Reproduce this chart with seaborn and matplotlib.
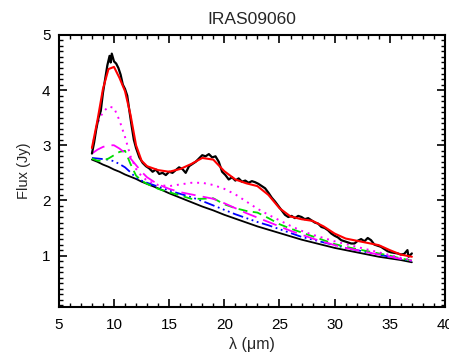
import numpy as np
import pandas as pd
import matplotlib
matplotlib.use("Agg")
import matplotlib.pyplot as plt
import seaborn as sns
from matplotlib.ticker import MultipleLocator

# ---- model grid (micron) ----
wave = [8, 8.5, 9, 9.5, 10, 10.5, 11, 11.5, 12, 12.5, 13, 14, 15, 16, 17, 18, 19,
        20, 21, 22, 23, 24, 25, 26, 27, 28, 29, 30, 31, 32, 33, 34, 35, 36, 37]

continuum = [2.74, 2.70, 2.65, 2.61, 2.56, 2.52, 2.47, 2.43, 2.39, 2.34, 2.30, 2.22, 2.13,
             2.05, 1.97, 1.89, 1.82, 1.74, 1.67, 1.60, 1.53, 1.47, 1.41, 1.35, 1.29, 1.24,
             1.19, 1.14, 1.10, 1.06, 1.02, 0.98, 0.95, 0.92, 0.88]

total_fit = [2.95, 3.45, 4.02, 4.38, 4.42, 4.22, 3.98, 3.55, 3.00, 2.72, 2.62, 2.55, 2.52,
             2.57, 2.66, 2.77, 2.74, 2.53, 2.38, 2.31, 2.26, 2.10, 1.86, 1.71, 1.66, 1.63,
             1.53, 1.40, 1.31, 1.27, 1.23, 1.19, 1.10, 1.02, 0.98]

comp_dotted = [2.95, 3.40, 3.60, 3.70, 3.68, 3.45, 3.15, 2.80, 2.57, 2.44, 2.36, 2.28, 2.26,
               2.29, 2.32, 2.32, 2.28, 2.21, 2.11, 1.98, 1.85, 1.74, 1.64, 1.54, 1.45, 1.38,
               1.32, 1.26, 1.21, 1.16, 1.11, 1.06, 1.01, 0.96, 0.92]

comp_dashed = [2.85, 2.92, 2.97, 3.00, 3.00, 2.94, 2.86, 2.76, 2.64, 2.52, 2.42, 2.29, 2.21,
               2.15, 2.11, 2.07, 2.03, 1.95, 1.86, 1.77, 1.69, 1.61, 1.53, 1.45, 1.38, 1.31,
               1.25, 1.19, 1.14, 1.10, 1.06, 1.02, 0.98, 0.94, 0.91]

comp_green = [2.76, 2.72, 2.72, 2.76, 2.82, 2.88, 2.90, 2.66, 2.45, 2.36, 2.30, 2.21, 2.15,
              2.09, 2.03, 2.03, 2.04, 1.93, 1.86, 1.81, 1.78, 1.68, 1.57, 1.49, 1.42, 1.35,
              1.28, 1.21, 1.16, 1.12, 1.08, 1.04, 1.00, 0.95, 0.91]

comp_blue = [2.77, 2.76, 2.75, 2.74, 2.71, 2.66, 2.60, 2.51, 2.41, 2.36, 2.32, 2.25, 2.18,
             2.12, 2.06, 1.99, 1.91, 1.83, 1.75, 1.68, 1.61, 1.55, 1.48, 1.41, 1.34, 1.29,
             1.24, 1.19, 1.14, 1.10, 1.06, 1.02, 0.98, 0.94, 0.90]

# ---- observed spectrum ----
obs_wave = [8.0, 8.2, 8.4, 8.6, 8.8, 9.0, 9.2, 9.4, 9.6, 9.7, 9.8, 10.0, 10.2, 10.4, 10.6,
            10.8, 11.0, 11.2, 11.4, 11.6, 11.8, 12.0, 12.3, 12.6, 12.9, 13.2, 13.5, 13.8,
            14.1, 14.4, 14.7, 15.0, 15.3, 15.6, 15.9, 16.2, 16.5, 16.8, 17.1, 17.4, 17.7,
            18.0, 18.3, 18.6, 18.9, 19.2, 19.5, 19.8, 20.1, 20.4, 20.7, 21.0, 21.3, 21.6,
            21.9, 22.2, 22.5, 22.8, 23.1, 23.4, 23.7, 24.0, 24.3, 24.6, 24.9, 25.2, 25.5,
            25.8, 26.1, 26.4, 26.7, 27.0, 27.3, 27.6, 27.9, 28.2, 28.5, 28.8, 29.1, 29.4,
            29.7, 30.0, 30.3, 30.6, 30.9, 31.2, 31.5, 31.8, 32.1, 32.4, 32.7, 33.0, 33.3,
            33.6, 33.9, 34.2, 34.5, 34.8, 35.1, 35.4, 35.7, 36.0, 36.3, 36.6, 36.7, 37.0]
obs_flux = [2.85, 3.05, 3.30, 3.50, 3.62, 3.95, 4.20, 4.45, 4.62, 4.50, 4.66, 4.52, 4.48,
            4.40, 4.28, 4.10, 4.02, 3.90, 3.62, 3.35, 3.10, 2.95, 2.78, 2.68, 2.62, 2.58,
            2.52, 2.56, 2.48, 2.50, 2.46, 2.52, 2.50, 2.55, 2.60, 2.57, 2.50, 2.62, 2.66,
            2.70, 2.76, 2.82, 2.80, 2.84, 2.78, 2.80, 2.70, 2.52, 2.46, 2.38, 2.42, 2.36,
            2.40, 2.34, 2.36, 2.32, 2.35, 2.33, 2.30, 2.26, 2.22, 2.14, 2.05, 1.98, 1.90,
            1.82, 1.74, 1.70, 1.72, 1.68, 1.72, 1.70, 1.66, 1.68, 1.64, 1.60, 1.58, 1.52,
            1.50, 1.46, 1.40, 1.36, 1.33, 1.28, 1.26, 1.24, 1.22, 1.22, 1.27, 1.30, 1.26,
            1.32, 1.28, 1.20, 1.18, 1.16, 1.12, 1.08, 1.06, 1.05, 1.04, 1.02, 1.03, 1.10,
            0.98, 1.04]

title = "IRAS09060"
xlabel = "λ (μm)"
ylabel = "Flux (Jy)"

sns.set_theme(style="ticks")
plt.rcParams["font.family"] = ["Liberation Sans", "DejaVu Sans"]

fig = plt.figure(figsize=(4.49, 3.56), dpi=100)
ax = fig.add_axes([0.131, 0.1385, 0.860, 0.7635])

models = pd.DataFrame({"wave": wave, "cont": continuum, "fit": total_fit,
                       "dot": comp_dotted, "dash": comp_dashed,
                       "green": comp_green, "blue": comp_blue})
obs = pd.DataFrame({"wave": obs_wave, "flux": obs_flux})

sns.lineplot(data=models, x="wave", y="cont", color="black", lw=1.3, ax=ax)
sns.lineplot(data=models, x="wave", y="blue", color="#0000ff", lw=1.3, ax=ax).lines[-1].set_dashes([6, 2, 1, 2, 1, 2, 1, 2])
sns.lineplot(data=models, x="wave", y="green", color="#00dd00", lw=1.3, ax=ax).lines[-1].set_dashes([5, 3])
sns.lineplot(data=models, x="wave", y="dash", color="#ff00ff", lw=1.3, ax=ax).lines[-1].set_dashes([8, 4])
sns.lineplot(data=models, x="wave", y="dot", color="#ff00ff", lw=1.4, ax=ax).lines[-1].set_dashes([1, 2.5])
sns.lineplot(data=obs, x="wave", y="flux", color="black", lw=1.6, ax=ax)
sns.lineplot(data=models, x="wave", y="fit", color="#ff0000", lw=1.5, ax=ax)

ax.set_xlim(5, 40)
ax.set_ylim(0.075, 5.0)
ax.xaxis.set_major_locator(MultipleLocator(5))
ax.xaxis.set_minor_locator(MultipleLocator(1))
ax.yaxis.set_major_locator(MultipleLocator(1))
ax.yaxis.set_minor_locator(MultipleLocator(0.1))
ax.tick_params(which="both", direction="in", top=True, right=True, colors="black",
               labelsize=11)
ax.tick_params(axis="x", which="major", pad=8)
ax.tick_params(axis="y", which="major", pad=6)
ax.tick_params(which="major", length=6, width=1.2)
ax.tick_params(which="minor", length=3, width=1.0)
for s in ax.spines.values():
    s.set_linewidth(1.5)
    s.set_color("black")

ax.set_title(title, fontsize=12.5, pad=8)
ax.set_xlabel(xlabel, fontsize=11.5, labelpad=4)
ax.set_ylabel(ylabel, fontsize=10.5, labelpad=8)

fig.savefig("out.png", dpi=100)
